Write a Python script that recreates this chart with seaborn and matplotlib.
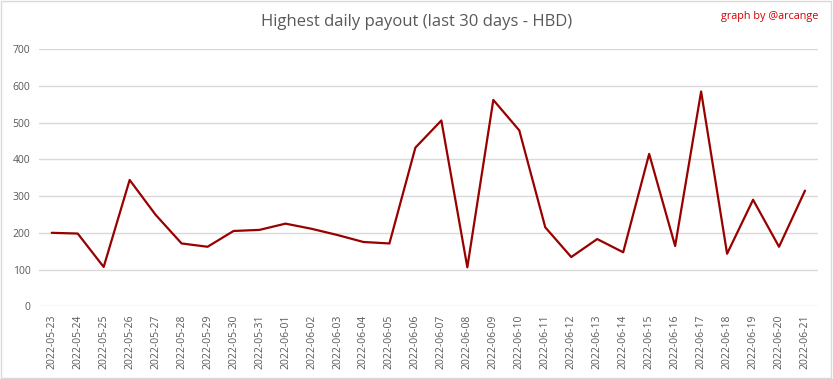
import pandas as pd
import matplotlib.pyplot as plt
import seaborn as sns

dates = pd.date_range("2022-05-23", "2022-06-21").strftime("%Y-%m-%d").tolist()
payout = [200, 198, 107, 344, 249, 171, 162, 205, 208, 225,
          211, 194, 175, 171, 432, 506, 106, 562, 479, 215,
          134, 183, 147, 415, 164, 585, 143, 290, 162, 315]
yticks = [0, 100, 200, 300, 400, 500, 600, 700]

df = pd.DataFrame({"date": dates, "payout": payout})

sns.set_style("white")
plt.rcParams["font.family"] = ["Open Sans", "DejaVu Sans"]

fig = plt.figure(figsize=(8.33, 3.79), dpi=100)
ax = fig.add_axes([0.0465, 0.192, 0.9355, 0.678])

sns.lineplot(data=df, x="date", y="payout", color="#990000", linewidth=1.6, ax=ax)

ax.set_xlim(-0.5, len(dates) - 0.5)
ax.set_ylim(0, 700)
ax.set_yticks(yticks)
ax.grid(axis="y", color="#d9d9d9", linewidth=1)
ax.set_axisbelow(True)
for s in ax.spines.values():
    s.set_visible(False)
ax.tick_params(axis="both", length=0, colors="#595959", labelsize=7.5, pad=6)
ax.tick_params(axis="x", rotation=90)
ax.set_xlabel("")
ax.set_ylabel("")

fig.text(0.5, 0.942, "Highest daily payout (last 30 days - HBD)", ha="center", va="center",
         fontsize=12, color="#595959")
fig.text(0.982, 0.957, "graph by @arcange", ha="right", va="center", fontsize=7.8, color="#d40000")

fig.patches.append(plt.Rectangle((0.001, 0.002), 0.997, 0.995, transform=fig.transFigure,
                                 fill=False, edgecolor="#d9d9d9", linewidth=1))

fig.savefig("out.png", dpi=100)
